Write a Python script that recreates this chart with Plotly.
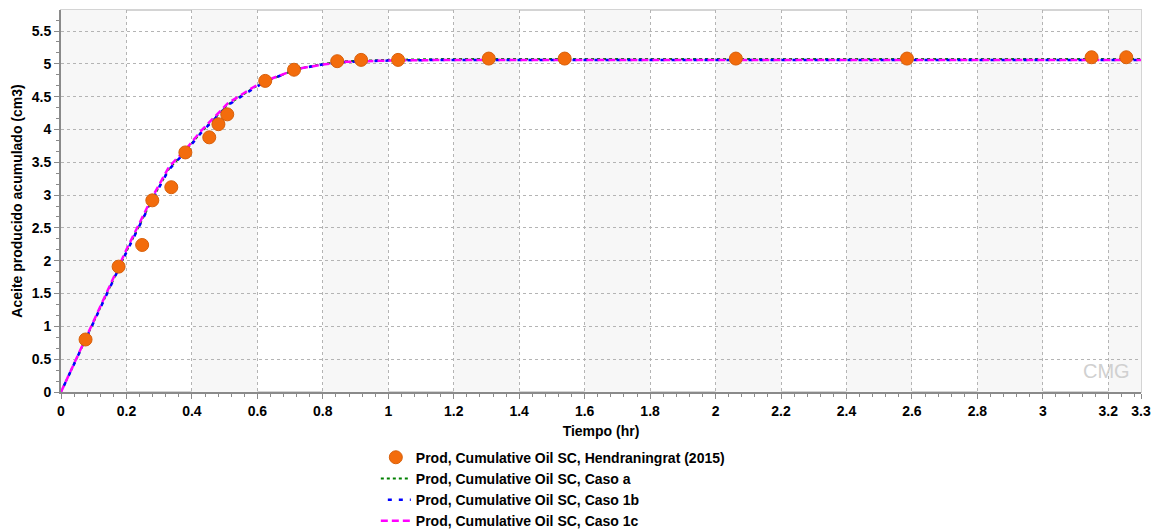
import plotly.graph_objects as go

# Observed data (Hendraningrat 2015)
obs_t = [0.075, 0.176, 0.248, 0.279, 0.337, 0.380, 0.453, 0.481, 0.508, 0.624,
         0.712, 0.844, 0.917, 1.030, 1.307, 1.539, 2.062, 2.585, 3.149, 3.255]
obs_v = [0.80, 1.91, 2.24, 2.92, 3.12, 3.65, 3.88, 4.08, 4.23, 4.74,
         4.91, 5.04, 5.06, 5.06, 5.08, 5.08, 5.08, 5.08, 5.10, 5.10]

# Simulated curves
sim_t = [0, 0.1, 0.2, 0.278, 0.33, 0.38, 0.43, 0.51, 0.59, 0.63, 0.72, 0.80,
         0.87, 1.0, 1.2, 1.5, 2.0, 2.5, 3.0, 3.3]
caso_a = [0, 1.07, 2.14, 2.93, 3.40, 3.67, 3.97, 4.38, 4.64, 4.74, 4.92, 5.00,
          5.04, 5.06, 5.075, 5.075, 5.075, 5.075, 5.075, 5.075]
caso_1b = [0, 1.06, 2.13, 2.92, 3.39, 3.66, 3.96, 4.37, 4.63, 4.74, 4.92, 4.99,
           5.03, 5.05, 5.06, 5.06, 5.06, 5.06, 5.06, 5.06]
caso_1c = [0, 1.08, 2.17, 2.96, 3.43, 3.69, 3.99, 4.40, 4.65, 4.75, 4.92, 4.99,
           5.03, 5.05, 5.06, 5.06, 5.06, 5.06, 5.06, 5.06]

x_ticks = [0, 0.2, 0.4, 0.6, 0.8, 1, 1.2, 1.4, 1.6, 1.8, 2, 2.2, 2.4, 2.6, 2.8, 3, 3.2, 3.3]
x_labels = ["0", "0.2", "0.4", "0.6", "0.8", "1", "1.2", "1.4", "1.6", "1.8", "2",
            "2.2", "2.4", "2.6", "2.8", "3", "3.2", "3.3"]
y_ticks = [0, 0.5, 1, 1.5, 2, 2.5, 3, 3.5, 4, 4.5, 5, 5.5]
y_labels = ["0", "0.5", "1", "1.5", "2", "2.5", "3", "3.5", "4", "4.5", "5", "5.5"]

X_MAX = 3.3
Y_MAX = 5.82

fig = go.Figure()

fig.add_trace(go.Scatter(
    x=sim_t, y=caso_a, mode="lines",
    name="Prod, Cumulative Oil SC, Caso a",
    line=dict(color="#008000", width=2, dash="dot"),
    legendrank=2,
))
fig.add_trace(go.Scatter(
    x=sim_t, y=caso_1b, mode="lines",
    name="Prod, Cumulative Oil SC, Caso 1b",
    line=dict(color="#0000ff", width=2.5, dash="0px,7px,4px,0px"),
    legendrank=3,
))
fig.add_trace(go.Scatter(
    x=sim_t, y=caso_1c, mode="lines",
    name="Prod, Cumulative Oil SC, Caso 1c",
    line=dict(color="#ff00ff", width=2.5, dash="7px,4px"),
    legendrank=4,
))
fig.add_trace(go.Scatter(
    x=obs_t, y=obs_v, mode="markers",
    name="Prod, Cumulative Oil SC, Hendraningrat (2015)",
    marker=dict(color="#f36c0c", size=13, line=dict(color="#d8600a", width=1)),
    legendrank=1,
))

# Alternating background bands
shapes = []
band_edges = x_ticks[:-1] + [3.4]
for i in range(len(band_edges) - 1):
    if i % 2 == 0:
        shapes.append(dict(type="rect", xref="x", yref="y", layer="below",
                           x0=band_edges[i], x1=min(band_edges[i + 1], X_MAX),
                           y0=0, y1=Y_MAX, fillcolor="#f7f7f7", line=dict(width=0)))
# light border top/right
shapes.append(dict(type="rect", xref="paper", yref="paper", x0=0, x1=1, y0=0, y1=1,
                   line=dict(color="#d4d4d4", width=2), layer="below"))

tick_font = dict(family="Liberation Sans, Arial", size=14, color="black", weight="bold")

fig.update_layout(
    width=1156, height=531,
    margin=dict(l=61, r=15, t=10, b=139, autoexpand=False),
    paper_bgcolor="white", plot_bgcolor="white",
    shapes=shapes,
    showlegend=True,
    legend=dict(x=0.2915, y=-0.13, xanchor="left", yanchor="top",
                font=dict(family="Liberation Sans, Arial", size=14, color="black", weight="bold"),
                bgcolor="rgba(0,0,0,0)", tracegroupgap=0, itemwidth=30),
    xaxis=dict(
        range=[0, X_MAX], tickvals=x_ticks, ticktext=x_labels,
        tickfont=tick_font, showgrid=True, gridcolor="#b4b4b4", griddash="dot", gridwidth=1,
        zeroline=False, showline=True, linecolor="#8a8a8a", linewidth=2,
        ticks="outside", ticklen=5, tickcolor="#8a8a8a",
        minor=dict(ticks="outside", dtick=0.04, tick0=0, ticklen=3, tickcolor="#8a8a8a", showgrid=False),
        title=dict(text="Tiempo (hr)", font=tick_font, standoff=8),
    ),
    yaxis=dict(
        range=[0, Y_MAX], tickvals=y_ticks, ticktext=y_labels,
        tickfont=tick_font, showgrid=True, gridcolor="#b4b4b4", griddash="dot", gridwidth=1,
        zeroline=False, showline=True, linecolor="#8a8a8a", linewidth=2,
        ticks="outside", ticklen=5, tickcolor="#8a8a8a",
        minor=dict(ticks="outside", dtick=0.5 / 3, tick0=0, ticklen=3, tickcolor="#8a8a8a", showgrid=False),
        title=dict(text="Aceite producido acumulado (cm3)", font=tick_font, standoff=6),
    ),
    annotations=[dict(text="CMG", xref="paper", yref="paper", x=0.992, y=0.02,
                      xanchor="right", yanchor="bottom", showarrow=False,
                      font=dict(family="Liberation Sans, Arial", size=20, color="#d0d0d0"))],
)

fig.write_html("out.html")
